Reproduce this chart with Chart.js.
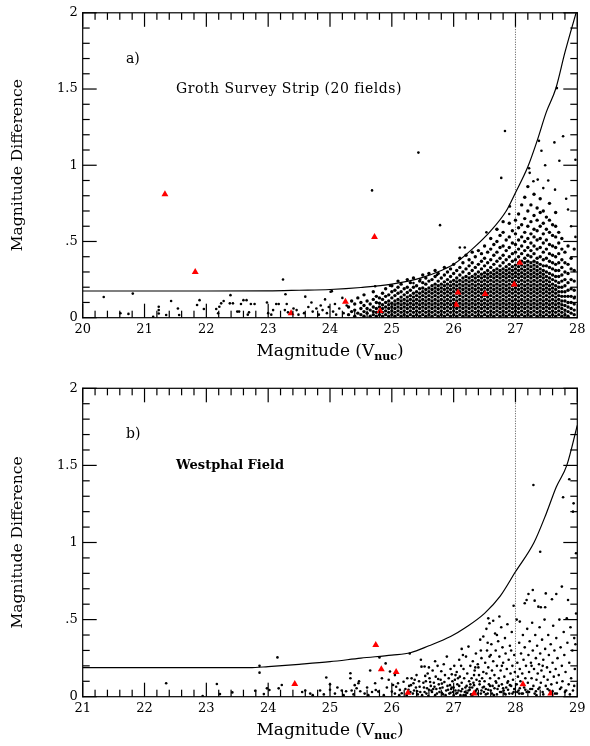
<!DOCTYPE html>
<html>
<head>
<meta charset="utf-8">
<script src="https://cdn.jsdelivr.net/npm/chart.js@4.4.1/dist/chart.umd.min.js"></script>
<style>
  html, body { margin: 0; padding: 0; background: #fff; }
  .panel { position: absolute; left: 0; width: 590px; height: 373px; }
  .panel canvas { position: absolute; left: 0; top: 0; }
  .overlay { pointer-events: none; }
  #panelA { top: 0; }
  #panelB { top: 373px; }
</style>
</head>
<body>
<div class="panel" id="panelA">
  <canvas id="chartA" width="590" height="373"></canvas>
  <canvas id="ticksA" class="overlay" width="590" height="373"></canvas>
</div>
<div class="panel" id="panelB">
  <canvas id="chartB" width="590" height="373"></canvas>
  <canvas id="ticksB" class="overlay" width="590" height="373"></canvas>
</div>
<script>
// ---- tick labels ----
const yTickLabels = ['0', '.5', '1', '1.5', '2'];
const grothXTicks = ['20', '21', '22', '23', '24', '25', '26', '27', '28'];
const westXTicks = ['21', '22', '23', '24', '25', '26', '27', '28', '29'];

// ---- a) Groth Survey Strip ----
// red triangles
const grothCandidates = [[21.33,.81],[21.82,.30],[23.37,.03],[24.25,.104],[24.72,.53],[24.81,.044],
  [26.04,.085],[26.07,.165],[26.51,.156],[26.98,.217],[27.07,.36]];

// scattered dots (bright end and outliers)
const grothScatter = [[20.34,.136],[20.81,.158],[20.61,.029],[20.74,.025],[21.14,.006],[21.23,.072],[21.23,.05],
  [21.23,.028],[21.35,.018],[21.43,.11],[21.54,.06],[21.56,.018],[21.85,.083],[21.89,.115],[21.96,.057],
  [22.16,.057],[22.19,.029],[22.21,.072],[22.24,.094],[22.28,.11],[22.39,.148],[22.38,.094],[22.43,.094],
  [22.5,.04],[22.53,.04],[22.56,.09],[22.6,.115],[22.65,.115],[22.69,.035],[22.72,.09],[22.78,.09],[22.67,.02],
  [22.98,.1],[23.0,.03],[23.05,.02],[23.08,.05],[23.13,.09],[23.17,.09],[23.24,.251],[23.28,.154],[23.27,.05],
  [23.3,.09],[23.32,.035],[23.41,.06],[23.46,.05],[23.49,.02],[23.58,.03],[23.6,.138],[23.65,.07],[23.7,.1],
  [23.72,.04],[23.78,.06],[23.82,.02],[23.85,.08],[23.88,.05],[23.92,.12],[23.95,.03],[23.98,.07],[24.01,.17],
  [24.05,.04],[24.08,.09],[24.1,.02],[24.15,.06],[24.2,.13],[24.22,.03],[24.27,.08],
  [24.68,.835],[25.43,1.083],[25.78,.607],[26.83,1.225],[26.77,.917],[27.67,1.506],[27.77,1.19],[27.63,1.15],
  [27.38,1.16],[27.42,1.095],[27.71,1.03],[27.97,1.036],[27.48,1.0],[27.22,.98],[27.36,.906],[27.29,.895],
  [27.23,.95],[27.53,.9],[27.45,.85],[27.64,.84],[27.85,.71],[27.97,.53],[26.53,.56],[26.70,.58],[26.10,.46],
  [26.18,.46],[26.91,.73],[26.90,.68],[24.03,.174],[24.73,.206],[24.97,.21],[25.35,.227],[25.46,.25],
  [25.73,.28],[27.96,.137],[27.9,.6],[27.82,.78]];

// dense faint end: [magnitude, differences...]
const grothColumns = [
  [24.30,.02,.07],[24.35,.04,.11],[24.40,.01,.05,.09],[24.45,.03,.13],[24.50,.02,.06,.1],
  [24.55,.01,.04,.08,.15],[24.60,.03,.06,.11],[24.65,.01,.05,.09],[24.70,.02,.04,.07,.12,.17],
  [24.75,.01,.035,.06,.1,.14],[24.80,.02,.045,.07,.095,.13],[24.85,.01,.035,.06,.085,.12,.16],
  [24.90,.02,.045,.07,.1,.14,.19],[24.95,.01,.035,.06,.085,.11,.15],[25.00,.02,.045,.07,.095,.13,.17,.21],
  [25.05,.01,.035,.06,.085,.11,.145,.18],[25.10,.02,.045,.07,.095,.12,.16,.2,.24],
  [25.15,.01,.035,.06,.085,.11,.135,.17,.22],[25.20,.02,.045,.07,.095,.12,.15,.19],
  [25.25,.01,.035,.06,.085,.11,.135,.165,.2,.25],[25.30,.02,.045,.07,.095,.12,.145,.18,.23],
  [25.35,.01,.035,.06,.085,.11,.135,.16,.2,.26],[25.40,.02,.045,.07,.095,.12,.145,.17,.21],
  [25.45,.01,.035,.06,.085,.11,.135,.16,.19,.24],[25.50,.02,.045,.07,.095,.12,.145,.17,.195,.23,.28],
  [25.55,.01,.035,.06,.085,.11,.135,.16,.185,.22,.26],[25.60,.02,.045,.07,.095,.12,.145,.17,.195,.24,.29],
  [25.65,.01,.035,.06,.085,.11,.135,.16,.185,.21,.25],[25.70,.02,.045,.07,.095,.12,.145,.17,.195,.22,.27,.31],
  [25.75,.01,.035,.06,.085,.11,.135,.16,.185,.21,.24,.29],[25.80,.02,.045,.07,.095,.12,.145,.17,.195,.22,.26],
  [25.85,.01,.035,.06,.085,.11,.135,.16,.185,.21,.235,.28,.33],
  [25.90,.02,.045,.07,.095,.12,.145,.17,.195,.22,.25,.3],
  [25.95,.01,.035,.06,.085,.11,.135,.16,.185,.21,.235,.27,.32],
  [26.00,.02,.045,.07,.095,.12,.145,.17,.195,.22,.245,.29,.35],
  [26.05,.01,.035,.06,.085,.11,.135,.16,.185,.21,.235,.26,.31],
  [26.10,.02,.045,.07,.095,.12,.145,.17,.195,.22,.245,.28,.33,.39],
  [26.15,.01,.035,.06,.085,.11,.135,.16,.185,.21,.235,.26,.3,.36],
  [26.20,.02,.045,.07,.095,.12,.145,.17,.195,.22,.245,.27,.32,.41],
  [26.25,.01,.035,.06,.085,.11,.135,.16,.185,.21,.235,.26,.29,.34,.38],
  [26.30,.02,.045,.07,.095,.12,.145,.17,.195,.22,.245,.27,.31,.36,.43],
  [26.35,.01,.035,.06,.085,.11,.135,.16,.185,.21,.235,.26,.285,.33,.4],
  [26.40,.02,.045,.07,.095,.12,.145,.17,.195,.22,.245,.27,.3,.35,.44],
  [26.45,.01,.035,.06,.085,.11,.135,.16,.185,.21,.235,.26,.285,.32,.37,.42],
  [26.50,.02,.045,.07,.095,.12,.145,.17,.195,.22,.245,.27,.295,.34,.39,.47],
  [26.55,.01,.035,.06,.085,.11,.135,.16,.185,.21,.235,.26,.285,.31,.36,.43],
  [26.60,.02,.045,.07,.095,.12,.145,.17,.195,.22,.245,.27,.295,.33,.38,.45,.52],
  [26.65,.01,.035,.06,.085,.11,.135,.16,.185,.21,.235,.26,.285,.31,.35,.41,.48],
  [26.70,.02,.045,.07,.095,.12,.145,.17,.195,.22,.245,.27,.295,.32,.37,.43,.5,.58],
  [26.75,.01,.035,.06,.085,.11,.135,.16,.185,.21,.235,.26,.285,.31,.34,.39,.46,.54],
  [26.80,.02,.045,.07,.095,.12,.145,.17,.195,.22,.245,.27,.295,.32,.36,.41,.47,.56,.63],
  [26.85,.01,.035,.06,.085,.11,.135,.16,.185,.21,.235,.26,.285,.31,.335,.38,.44,.51],
  [26.90,.02,.045,.07,.095,.12,.145,.17,.195,.22,.245,.27,.295,.32,.35,.4,.46,.53,.62],
  [26.95,.01,.035,.06,.085,.11,.135,.16,.185,.21,.235,.26,.285,.31,.335,.37,.42,.49,.57],
  [27.00,.02,.045,.07,.095,.12,.145,.17,.195,.22,.245,.27,.295,.32,.345,.38,.43,.48,.55,.64],
  [27.05,.01,.035,.06,.085,.11,.135,.16,.185,.21,.235,.26,.285,.31,.335,.36,.4,.45,.51,.59,.68],
  [27.10,.02,.045,.07,.095,.12,.145,.17,.195,.22,.245,.27,.295,.32,.345,.37,.42,.47,.53,.61,.74],
  [27.15,.01,.035,.06,.085,.11,.135,.16,.185,.21,.235,.26,.285,.31,.335,.36,.39,.44,.5,.56,.65,.79],
  [27.20,.02,.045,.07,.095,.12,.145,.17,.195,.22,.245,.27,.295,.32,.345,.37,.41,.46,.52,.6,.7,.86],
  [27.25,.01,.035,.06,.085,.11,.135,.16,.185,.21,.235,.26,.285,.31,.335,.36,.4,.44,.49,.55,.63,.74],
  [27.30,.02,.045,.07,.095,.12,.145,.17,.195,.22,.245,.27,.295,.32,.345,.37,.42,.47,.53,.58,.67,.81],
  [27.35,.01,.035,.06,.085,.11,.135,.16,.185,.21,.235,.26,.285,.31,.335,.36,.39,.45,.51,.57,.64,.72],
  [27.40,.02,.045,.07,.095,.12,.145,.17,.195,.22,.245,.27,.295,.32,.35,.4,.46,.52,.6,.69,.78],
  [27.45,.01,.035,.06,.085,.11,.135,.16,.185,.21,.235,.26,.285,.31,.34,.38,.43,.49,.55,.62,.7],
  [27.50,.02,.045,.07,.095,.12,.145,.17,.195,.22,.245,.27,.3,.34,.39,.45,.51,.58,.66],
  [27.55,.01,.035,.06,.085,.11,.135,.16,.185,.21,.235,.26,.29,.33,.37,.42,.48,.56,.64,.75],
  [27.60,.02,.045,.07,.095,.12,.145,.17,.195,.22,.25,.28,.32,.36,.41,.47,.54,.61],
  [27.65,.01,.035,.06,.085,.11,.135,.16,.185,.21,.24,.27,.31,.35,.4,.46,.53,.6,.69],
  [27.70,.02,.045,.07,.095,.12,.145,.17,.2,.23,.27,.31,.36,.42,.49,.56],
  [27.75,.01,.035,.06,.085,.11,.14,.17,.2,.24,.28,.33,.38,.45,.52],
  [27.80,.02,.05,.08,.11,.14,.17,.21,.25,.3,.36,.43],
  [27.85,.01,.04,.07,.1,.14,.18,.23,.29,.35,.47],
  [27.90,.03,.06,.1,.14,.19,.25,.32,.39],
  [27.95,.02,.05,.09,.13,.18,.24,.31,.45]
];

// error envelope
const grothCurve = [[20,.175],[21,.175],[22,.175],[23,.176],[23.5,.18],[24,.185],[24.5,.198],[25,.22],
  [25.5,.265],[25.8,.31],[26,.35],[26.3,.45],[26.6,.57],[26.85,.70],[27,.82],[27.2,.99],[27.35,1.16],
  [27.5,1.35],[27.65,1.5],[27.8,1.74],[27.98,2.0]];
const grothLimit = 27;

// ---- b) Westphal Field ----
const westCandidates = [[24.43,.082],[25.74,.335],[25.83,.178],[26.07,.16],[26.26,.026],[27.33,.02],
  [28.12,.08],[28.57,.02]];

const westDots = [[22.35,.087],[22.94,.005],[23.17,.082],[23.22,.017],[23.42,.028],[23.79,.039],[23.86,.2],
  [23.86,.156],[23.93,.017],[23.98,.054],[24.02,.043],[24.15,.255],[24.17,.054],[24.22,.076],
  [24.6,.04],[24.68,.02],[24.84,.04],[24.94,.125],[25.0,.08],[25.0,.045],[25.08,.02],[25.19,.04],[25.26,.035],
  [25.33,.152],[25.33,.12],[25.35,.04],[25.4,.075],[25.43,.055],[25.46,.087],[25.49,.035],[24.72,.01],
  [24.9,.015],[25.12,.06],[25.22,.01],[25.38,.015],[24.55,.03],[25.47,.1],
  [25.56,.02],[25.6,.06],[25.65,.17],[25.68,.03],[25.73,.087],[25.74,.043],[25.78,.033],[25.80,.255],
  [25.84,.12],[25.87,.01],[25.9,.216],[25.92,.06],[25.97,.163],[26.0,.033],[26.02,.076],[26.05,.02],
  [26.07,.065],[26.1,.087],[26.13,.044],[26.16,.022],[26.19,.097],[26.22,.05],[26.25,.12],[26.29,.28],
  [26.32,.119],[26.35,.087],[26.36,.04],[26.39,.06],[26.42,.015],[26.44,.1],[26.47,.24],[26.48,.195],
  [26.46,.03],[25.95,.11],[26.12,.01],[26.28,.07],[25.62,.01],[26.4,.14],[26.3,.03],[26.05,.14],
  [26.52,.06],[26.53,.196],[26.55,.1],[26.56,.02],[26.58,.15],[26.6,.045],[26.61,.12],[26.63,.07],[26.65,.03],
  [26.66,.17],[26.68,.09],[26.7,.01],[26.71,.13],[26.72,.05],[26.74,.2],[26.76,.08],[26.77,.03],[26.79,.11],
  [26.8,.165],[26.82,.06],[26.83,.015],[26.85,.095],[26.86,.14],[26.88,.04],[26.89,.26],[26.9,.07],
  [26.92,.12],[26.93,.02],[26.95,.18],[26.96,.05],[26.98,.1],[26.99,.03],[26.6,.19],[26.7,.23],[26.84,.21],
  [26.97,.145],[26.54,.135],[26.67,.05],[26.81,.025],[26.94,.075],
  [27.0,.06],[27.01,.2],[27.02,.11],[27.04,.02],[27.05,.16],[27.06,.08],[27.08,.04],[27.09,.24],[27.1,.13],
  [27.11,.01],[27.13,.31],[27.13,.09],[27.14,.05],[27.16,.18],[27.17,.12],[27.18,.03],[27.2,.26],[27.21,.07],
  [27.22,.15],[27.24,.325],[27.24,.04],[27.25,.1],[27.27,.2],[27.28,.015],[27.29,.12],[27.3,.06],[27.31,.23],
  [27.32,.09],[27.34,.17],[27.35,.03],[27.36,.28],[27.37,.11],[27.38,.05],[27.4,.19],[27.41,.14],[27.42,.08],
  [27.43,.37],[27.44,.02],[27.45,.25],[27.46,.12],[27.47,.06],[27.48,.39],[27.48,.16],[27.49,.03],[27.03,.14],
  [27.12,.2],[27.19,.01],[27.26,.06],[27.33,.14],[27.39,.21],[27.15,.27],[27.07,.12],[27.27,.08],[27.44,.3],
  [27.35,.19],
  [27.5,.1],[27.51,.22],[27.52,.05],[27.53,.44],[27.53,.15],[27.54,.3],[27.55,.02],[27.56,.508],[27.56,.19],
  [27.57,.08],[27.58,.476],[27.58,.26],[27.59,.12],[27.6,.04],[27.61,.34],[27.62,.17],[27.63,.07],[27.64,.493],
  [27.64,.23],[27.65,.01],[27.66,.14],[27.67,.41],[27.68,.3],[27.69,.09],[27.7,.2],[27.71,.05],[27.72,.36],
  [27.73,.12],[27.74,.52],[27.74,.26],[27.75,.03],[27.76,.17],[27.77,.45],[27.78,.08],[27.79,.32],[27.8,.22],
  [27.81,.04],[27.82,.13],[27.83,.38],[27.84,.28],[27.85,.06],[27.86,.18],[27.87,.47],[27.88,.1],[27.89,.24],
  [27.9,.02],[27.91,.33],[27.92,.15],[27.93,.07],[27.94,.42],[27.95,.2],[27.96,.11],[27.97,.59],[27.97,.03],
  [27.98,.27],[27.99,.16],[27.55,.35],[27.6,.27],[27.68,.1],[27.78,.2],[27.87,.09],[27.93,.3],[27.7,.4],
  [27.82,.02],
  [28.02,.5],[28.02,.08],[28.03,.22],[28.04,.13],[28.05,.04],[28.06,.35],[28.07,.487],[28.07,.18],[28.08,.1],
  [28.09,.28],[28.1,.02],[28.11,.15],[28.12,.4],[28.13,.24],[28.14,.06],[28.15,.606],[28.15,.32],[28.16,.12],
  [28.17,.2],[28.18,.627],[28.18,.03],[28.19,.44],[28.2,.09],[28.21,.666],[28.21,.27],[28.22,.16],[28.23,.36],
  [28.24,.05],[28.25,.22],[28.26,.12],[28.27,.48],[28.28,.692],[28.28,.3],[28.29,.07],[28.3,.18],[28.31,.623],
  [28.31,.02],[28.32,.4],[28.33,.25],[28.34,.11],[28.35,.33],[28.36,.15],[28.37,.584],[28.37,.05],[28.38,.21],
  [28.39,.45],[28.4,.28],[28.41,.58],[28.41,.09],[28.42,.17],[28.43,.37],[28.44,.03],[28.45,.24],[28.46,.13],
  [28.47,.5],[28.48,.58],[28.48,.31],[28.49,.67],[28.49,.07],[28.06,.02],[28.26,.2],[28.34,.01],[28.44,.2],
  [28.51,.19],[28.52,.11],[28.53,.4],[28.54,.27],[28.55,.04],[28.56,.16],[28.57,.34],[28.58,.08],[28.59,.632],
  [28.6,.22],[28.61,.46],[28.62,.13],[28.63,.3],[28.64,.02],[28.65,.18],[28.66,.666],[28.66,.38],[28.67,.09],
  [28.68,.25],[28.7,.14],[28.71,.5],[28.72,.05],[28.73,.32],[28.75,.714],[28.75,.2],[28.76,.1],[28.78,.42],
  [28.79,.27],[28.8,.03],[28.81,.16],[28.83,.508],[28.84,.35],[28.85,.627],[28.86,.08],[28.87,.22],[28.89,.45],
  [28.9,.12],[28.92,.3],[28.93,.04],[28.95,.38],[28.96,.18],[28.98,.54],[28.97,.34],
  [28.4,.94],[28.29,1.373],[28.87,1.41],[28.77,1.293],[28.94,1.254],[28.93,1.2],[28.98,.93],
  [26.24,.01],[26.27,.045],[26.31,.075],[26.34,.02],[26.37,.11],[26.41,.035],[26.45,.065],[26.49,.01],
  [26.51,.09],[26.53,.03],[26.57,.055],[26.59,.005],[26.62,.095],[26.64,.04],[26.69,.065],[26.73,.02],
  [26.75,.115],[26.78,.055],[26.81,.085],[26.87,.01],[26.91,.045],[26.95,.025],[26.97,.06],[27.0,.01],
  [27.03,.04],[27.06,.025],[27.09,.07],[27.12,.035],[27.16,.01],[27.19,.06],[27.22,.025],[27.26,.045],
  [27.3,.01],[27.33,.075],[27.36,.04],[27.39,.02],[27.42,.1],[27.45,.04],[27.49,.065],[27.52,.015],
  [27.56,.045],[27.59,.07],[27.62,.02],[27.66,.055],[27.7,.015],[27.73,.07],[27.77,.03],[27.8,.055],
  [27.84,.015],[27.88,.045],[27.91,.075],[27.95,.02],[27.98,.05],[28.03,.03],[28.07,.055],[28.12,.02],
  [28.16,.045],[28.22,.03],[28.27,.05],[28.33,.035],[28.39,.06],[28.45,.015],[28.52,.05],[28.6,.035],
  [28.67,.02],[28.74,.06],[28.82,.04],[28.88,.015],[28.95,.07]];

const westCurve = [[21,.188],[22,.188],[23,.188],[23.7,.188],[24,.195],[24.5,.21],[25,.227],[25.5,.25],
  [26,.27],[26.3,.285],[26.6,.33],[26.95,.39],[27.2,.45],[27.5,.54],[27.75,.65],[28,.81],[28.3,1.0],
  [28.5,1.19],[28.66,1.36],[28.83,1.5],[29,1.76]];
const westLimit = 28;

// ---- drawing ----
const SERIF = "'DejaVu Serif', serif";
const toXY = p => ({ x: p[0], y: p[1] });

// annotations and axis titles
const framePlugin = {
  id: 'frame',
  afterDraw(chart, args, opts) {
    const { ctx, chartArea: a } = chart;
    const xs = chart.scales.x, ys = chart.scales.y;
    ctx.save();
    ctx.fillStyle = '#000';
    ctx.textBaseline = 'middle';
    ctx.textAlign = 'left';
    ctx.font = '14px ' + SERIF;
    ctx.fillText(opts.tag, xs.getPixelForValue(opts.tagAt[0]), ys.getPixelForValue(opts.tagAt[1]));
    ctx.font = (opts.bold ? 'bold ' : '') + opts.noteSize + 'px ' + SERIF;
    ctx.letterSpacing = opts.noteSpacing;
    ctx.fillText(opts.note, xs.getPixelForValue(opts.noteAt[0]), ys.getPixelForValue(opts.noteAt[1]));
    ctx.letterSpacing = '0px';

    // y title
    ctx.save();
    ctx.translate(18, (a.top + a.bottom) / 2);
    ctx.rotate(-Math.PI / 2);
    ctx.textAlign = 'center';
    ctx.font = '15.5px ' + SERIF;
    ctx.fillText('Magnitude Difference', 0, 0);
    ctx.restore();

    // x title with subscript
    const main = '17px ' + SERIF, sub = 'bold 11px ' + SERIF;
    ctx.textBaseline = 'alphabetic';
    ctx.font = main;
    const w1 = ctx.measureText('Magnitude (V').width, w3 = ctx.measureText(')').width;
    ctx.font = sub;
    const w2 = ctx.measureText('nuc').width;
    let tx = (a.left + a.right) / 2 - (w1 + w2 + w3) / 2;
    const ty = a.bottom + 38;
    ctx.font = main; ctx.fillText('Magnitude (V', tx, ty); tx += w1;
    ctx.font = sub; ctx.fillText('nuc', tx, ty + 4); tx += w2;
    ctx.font = main; ctx.fillText(')', tx, ty);
    ctx.restore();
  }
};

// box and inward ticks on a transparent layer above the chart, placed with the chart's scales
function drawFrame(chart, overlayId) {
  const ctx = document.getElementById(overlayId).getContext('2d');
  const a = chart.chartArea;
  const xs = chart.scales.x, ys = chart.scales.y;
  const lw = 1.2;
  ctx.fillStyle = '#000';
  ctx.fillRect(a.left - lw / 2, a.top - lw / 2, a.right - a.left + lw, lw);
  ctx.fillRect(a.left - lw / 2, a.bottom - lw / 2, a.right - a.left + lw, lw);
  ctx.fillRect(a.left - lw / 2, a.top - lw / 2, lw, a.bottom - a.top + lw);
  ctx.fillRect(a.right - lw / 2, a.top - lw / 2, lw, a.bottom - a.top + lw);
  const nx = Math.round((xs.max - xs.min) * 5);
  for (let i = 0; i <= nx; i++) {
    const px = xs.getPixelForValue(xs.min + i * 0.2);
    const len = i % 5 === 0 ? 14 : 7;
    ctx.fillRect(px - lw / 2, a.bottom - len, lw, len);
    ctx.fillRect(px - lw / 2, a.top, lw, len);
  }
  for (let j = 0; j <= 20; j++) {
    const py = ys.getPixelForValue(j * 0.1);
    const len = j % 5 === 0 ? 14 : 7;
    ctx.fillRect(a.left, py - lw / 2, len, lw);
    ctx.fillRect(a.right - len, py - lw / 2, len, lw);
  }
}

function makePanel(id, overlayId, cfg) {
  const datasets = [
    {
      data: cfg.candidates.map(toXY), pointStyle: 'triangle', pointRadius: 4,
      backgroundColor: '#ff0000', borderColor: '#ff0000', borderWidth: 0
    },
    {
      data: cfg.dots, pointRadius: 1.3, backgroundColor: '#000', borderWidth: 0
    }
  ];
  if (cfg.denseDots) {
    datasets.push({ data: cfg.denseDots, pointRadius: 1.7, backgroundColor: '#000', borderWidth: 0 });
  }
  datasets.push(
    {
      data: cfg.curve.map(toXY), showLine: true, pointRadius: 0, borderColor: '#000',
      borderWidth: 1.2, cubicInterpolationMode: 'monotone', fill: false
    },
    {
      data: [{ x: cfg.limit, y: 0 }, { x: cfg.limit, y: 2 }], showLine: true, pointRadius: 0,
      borderColor: '#555', borderWidth: 1, borderDash: [1, 1.5]
    }
  );

  const chart = new Chart(document.getElementById(id), {
    type: 'scatter',
    data: { datasets },
    options: {
      responsive: false,
      animation: false,
      events: [],
      layout: { padding: { left: 0, right: 12.7, top: cfg.top, bottom: 0 } },
      plugins: {
        legend: { display: false },
        tooltip: { enabled: false },
        frame: cfg.frame
      },
      scales: {
        x: {
          type: 'linear', min: cfg.range[0], max: cfg.range[1],
          grid: { display: false, drawTicks: false }, border: { display: false },
          ticks: {
            stepSize: 1, autoSkip: false, maxRotation: 0, padding: 4, color: '#000',
            font: { family: SERIF, size: 13 },
            callback: (v, i) => cfg.xTicks[i]
          },
          afterFit: s => { s.height = cfg.xAxisHeight; }
        },
        y: {
          type: 'linear', min: 0, max: 2,
          grid: { display: false, drawTicks: false }, border: { display: false },
          ticks: {
            stepSize: 0.5, autoSkip: false, padding: 5, color: '#000',
            font: { family: SERIF, size: 13 },
            callback: (v, i) => yTickLabels[i]
          },
          afterFit: s => { s.width = 82.7; }
        }
      }
    },
    plugins: [framePlugin]
  });
  drawFrame(chart, overlayId);
}

const grothDense = grothColumns.flatMap(c => c.slice(1).map(v => ({ x: c[0], y: v })));

makePanel('chartA', 'ticksA', {
  candidates: grothCandidates, dots: grothScatter.map(toXY), denseDots: grothDense,
  curve: grothCurve, limit: grothLimit,
  range: [20, 28], xTicks: grothXTicks, top: 10, xAxisHeight: 55.3,
  frame: { tag: 'a)', tagAt: [20.7, 1.695], note: 'Groth Survey Strip (20 fields)', noteAt: [21.51, 1.5],
    bold: false, noteSize: 14, noteSpacing: '0.5px' }
});

makePanel('chartB', 'ticksB', {
  candidates: westCandidates, dots: westDots.map(toXY), curve: westCurve, limit: westLimit,
  range: [21, 29], xTicks: westXTicks, top: 15.3, xAxisHeight: 49.3,
  frame: { tag: 'b)', tagAt: [21.7, 1.70], note: 'Westphal Field', noteAt: [22.51, 1.5],
    bold: true, noteSize: 13, noteSpacing: '0px' }
});
</script>
</body>
</html>
